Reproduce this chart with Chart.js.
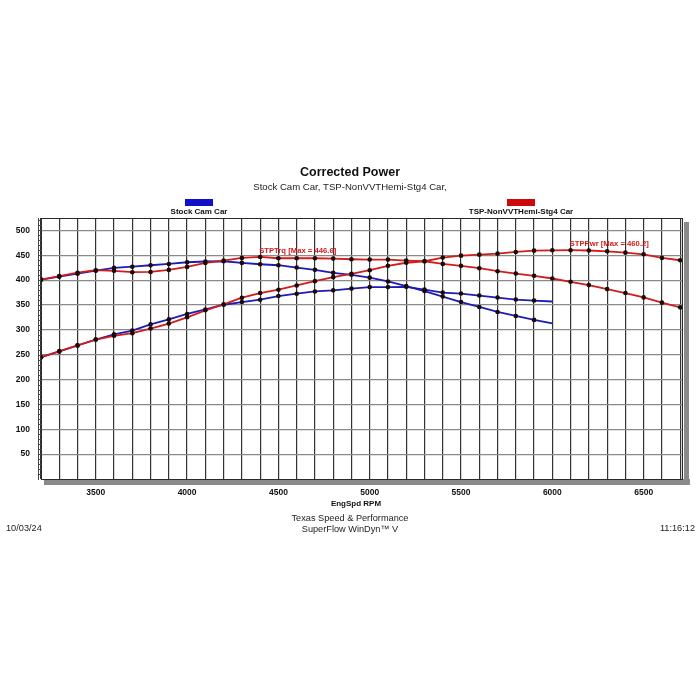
<!DOCTYPE html>
<html>
<head>
<meta charset="utf-8">
<title>Corrected Power</title>
<script src="https://cdn.jsdelivr.net/npm/chart.js@4.4.1/dist/chart.umd.min.js"></script>
<style>
  html, body { margin: 0; padding: 0; background: #fff; }
  #wrap { width: 700px; height: 700px; }
</style>
</head>
<body>
<div id="wrap"><canvas id="dynoChart" width="700" height="700"></canvas></div>
<script>
// Engine speed of every logged point (also the vertical grid lines).
const rpm = [3200, 3300, 3400, 3500, 3600, 3700, 3800, 3900, 4000, 4100,
             4200, 4300, 4400, 4500, 4600, 4700, 4800, 4900, 5000, 5100,
             5200, 5300, 5400, 5500, 5600, 5700, 5800, 5900, 6000, 6100,
             6200, 6300, 6400, 6500, 6600, 6700];

// Stock Cam Car (runs to 6000 rpm).
const stockTorque = [401, 407, 413, 419, 424.6, 427, 430, 432.6, 436, 437.5,
                     438, 434.7, 432, 430, 425.3, 420.7, 414.7, 410.7, 405, 397.3,
                     388, 378, 367, 356, 346, 336, 328, 320, 313];
const stockPower = [245, 256.7, 268.5, 280.5, 291, 298.6, 311, 321, 332, 341,
                    350.5, 356, 360.7, 368, 372.7, 377.3, 379.5, 383, 386, 386,
                    386.5, 381, 375, 373, 369, 365, 361, 359, 357];

// TSP-NonVVTHemi-Stg4 Car (runs to 6700 rpm).
const stg4Torque = [401, 408, 415, 420, 418.7, 416, 416.5, 420.6, 426.6, 434.6,
                    439.3, 444.7, 446.6, 444, 444, 444, 443.3, 442, 441.3, 441.3,
                    439.3, 438, 432.7, 428.7, 424, 418, 413.3, 408.7, 403.3, 396.7,
                    390, 382, 374, 365.3, 354.7, 345.3];
const stg4Power = [245, 256.7, 268.7, 280.6, 288, 293.3, 302.6, 312.6, 325.3, 339.3,
                   351.3, 364.7, 374, 380.7, 389.3, 398, 406, 412.7, 420, 428.7,
                   435, 438, 445.3, 449.3, 451.3, 453.3, 456.7, 459.3, 460, 460.2,
                   459.6, 458, 455.3, 452, 444.7, 440];

const seriesNames = ['Stock Cam Car', 'TSP-NonVVTHemi-Stg4 Car'];
const yTickValues = [50, 100, 150, 200, 250, 300, 350, 400, 450, 500];
const xTickLabels = [3500, 4000, 4500, 5000, 5500, 6000, 6500];
const maxNotes = ['STPTrq [Max = 446.6]', 'STPPwr [Max = 460.2]'];

const FONT = '"Liberation Sans", Arial, Helvetica, sans-serif';
const BLUE = '#1c1cb4';
const RED = '#d21c1c';

function lineSet(label, values, color) {
    const lastUnmarked = values.length < rpm.length;
    return {
        label: label,
        data: values.map((v, i) => ({ x: rpm[i], y: v })),
        borderColor: color,
        borderWidth: 1.8,
        tension: 0,
        pointRadius: (c) => (lastUnmarked && c.dataIndex === values.length - 1) ? 0 : 2.3,
        pointBackgroundColor: '#1a0a0a',
        pointBorderWidth: 0,
        fill: false,
    };
}

function text(ctx, str, x, y, size, weight, color, align) {
    ctx.font = `${weight} ${size}px ${FONT}`;
    ctx.fillStyle = color;
    ctx.textAlign = align || 'center';
    ctx.textBaseline = 'middle';
    ctx.fillText(str, x, y);
}

// Background, drop shadow, frame, legend and all the printed text.
const dynoDecor = {
    id: 'dynoDecor',
    beforeDraw(chart) {
        const { ctx, chartArea: a } = chart;
        ctx.save();
        ctx.fillStyle = '#fff';
        ctx.fillRect(0, 0, chart.width, chart.height);
        ctx.fillStyle = '#8a8a8a';
        ctx.fillRect(a.left + 3, a.bottom, a.right - a.left + 5, 6);
        ctx.fillRect(a.right + 2, a.top + 4, 5, a.bottom - a.top + 2);
        ctx.restore();
    },
    beforeDatasetsDraw(chart) {
        const { ctx, chartArea: a } = chart;
        const y = chart.scales.y;
        ctx.save();
        ctx.strokeStyle = '#2a2a2a';
        ctx.lineWidth = 1;
        ctx.strokeRect(a.left + 0.5, a.top + 0.5, a.right - a.left, a.bottom - a.top);
        // left axis: double line with small minor ticks between
        ctx.beginPath();
        ctx.moveTo(a.left - 2.5, a.top);
        ctx.lineTo(a.left - 2.5, a.bottom + 1);
        for (let v = 10; v < 525; v += 10) {
            const py = Math.round(y.getPixelForValue(v)) + 0.5;
            ctx.moveTo(a.left - 3, py);
            ctx.lineTo(a.left + 1, py);
        }
        ctx.strokeStyle = '#444';
        ctx.stroke();
        ctx.restore();
    },
    afterDraw(chart) {
        const { ctx } = chart;
        const xs = chart.scales.x, ys = chart.scales.y;
        ctx.save();
        text(ctx, 'Corrected Power', 350, 173, 12.5, 'bold', '#111');
        text(ctx, seriesNames.join(', ') + ',', 350, 187, 9.6, 'normal', '#222');

        // legend swatches with names underneath
        const legendX = [199, 521];
        const swatch = ['#1010c8', '#cc0a0a'];
        legendX.forEach((lx, i) => {
            ctx.fillStyle = swatch[i];
            ctx.fillRect(lx - 14, 199, 28, 7);
            text(ctx, seriesNames[i], lx, 212, 8, 'bold', '#111');
        });

        // max notes next to the peak of the Stg4 curves
        [stg4Torque, stg4Power].forEach((vals, i) => {
            const k = vals.indexOf(Math.max(...vals));
            const px = xs.getPixelForValue(rpm[k]);
            const py = ys.getPixelForValue(vals[k]);
            text(ctx, maxNotes[i], px - 1, py - 6, 7.7, 'bold', RED, 'left');
        });

        text(ctx, 'EngSpd RPM', 356, 504, 8, 'bold', '#111');
        text(ctx, 'Texas Speed & Performance', 350, 518, 9.2, 'normal', '#222');
        text(ctx, 'SuperFlow WinDyn\u2122 V', 350, 529, 9.2, 'normal', '#222');
        text(ctx, '10/03/24', 6, 528, 9.2, 'normal', '#222', 'left');
        text(ctx, '11:16:12', 695, 528, 9.2, 'normal', '#222', 'right');
        ctx.restore();
    }
};

const tickFont = { family: FONT, size: 8.5, weight: 'bold' };

new Chart(document.getElementById('dynoChart'), {
    type: 'line',
    data: {
        datasets: [
            lineSet(seriesNames[1] + ' STPTrq', stg4Torque, RED),
            lineSet(seriesNames[1] + ' STPPwr', stg4Power, RED),
            lineSet(seriesNames[0] + ' STPTrq', stockTorque, BLUE),
            lineSet(seriesNames[0] + ' STPPwr', stockPower, BLUE),
        ]
    },
    options: {
        responsive: false,
        animation: false,
        layout: { padding: { top: 218, right: 18, bottom: 191, left: 0 } },
        plugins: {
            legend: { display: false },
            tooltip: { enabled: false },
        },
        scales: {
            x: {
                type: 'linear',
                min: 3200,
                max: 6710,
                afterBuildTicks: (s) => { s.ticks = rpm.map(v => ({ value: v })); },
                afterFit: (s) => { s.height = 30; },
                ticks: {
                    autoSkip: false,
                    maxRotation: 0,
                    padding: 9,
                    color: '#111',
                    font: tickFont,
                    callback: (v) => xTickLabels.includes(v) ? String(v) : '',
                },
                grid: { color: '#333', lineWidth: 1.2, drawTicks: false },
                border: { display: false },
            },
            y: {
                min: 0,
                max: 525,
                afterBuildTicks: (s) => { s.ticks = yTickValues.map(v => ({ value: v })); },
                afterFit: (s) => { s.width = 41; },
                ticks: {
                    padding: 11,
                    color: '#111',
                    font: tickFont,
                },
                grid: { color: '#8a8a8a', lineWidth: 1.2, drawTicks: false },
                border: { display: false },
            }
        }
    },
    plugins: [dynoDecor]
});
</script>
</body>
</html>
